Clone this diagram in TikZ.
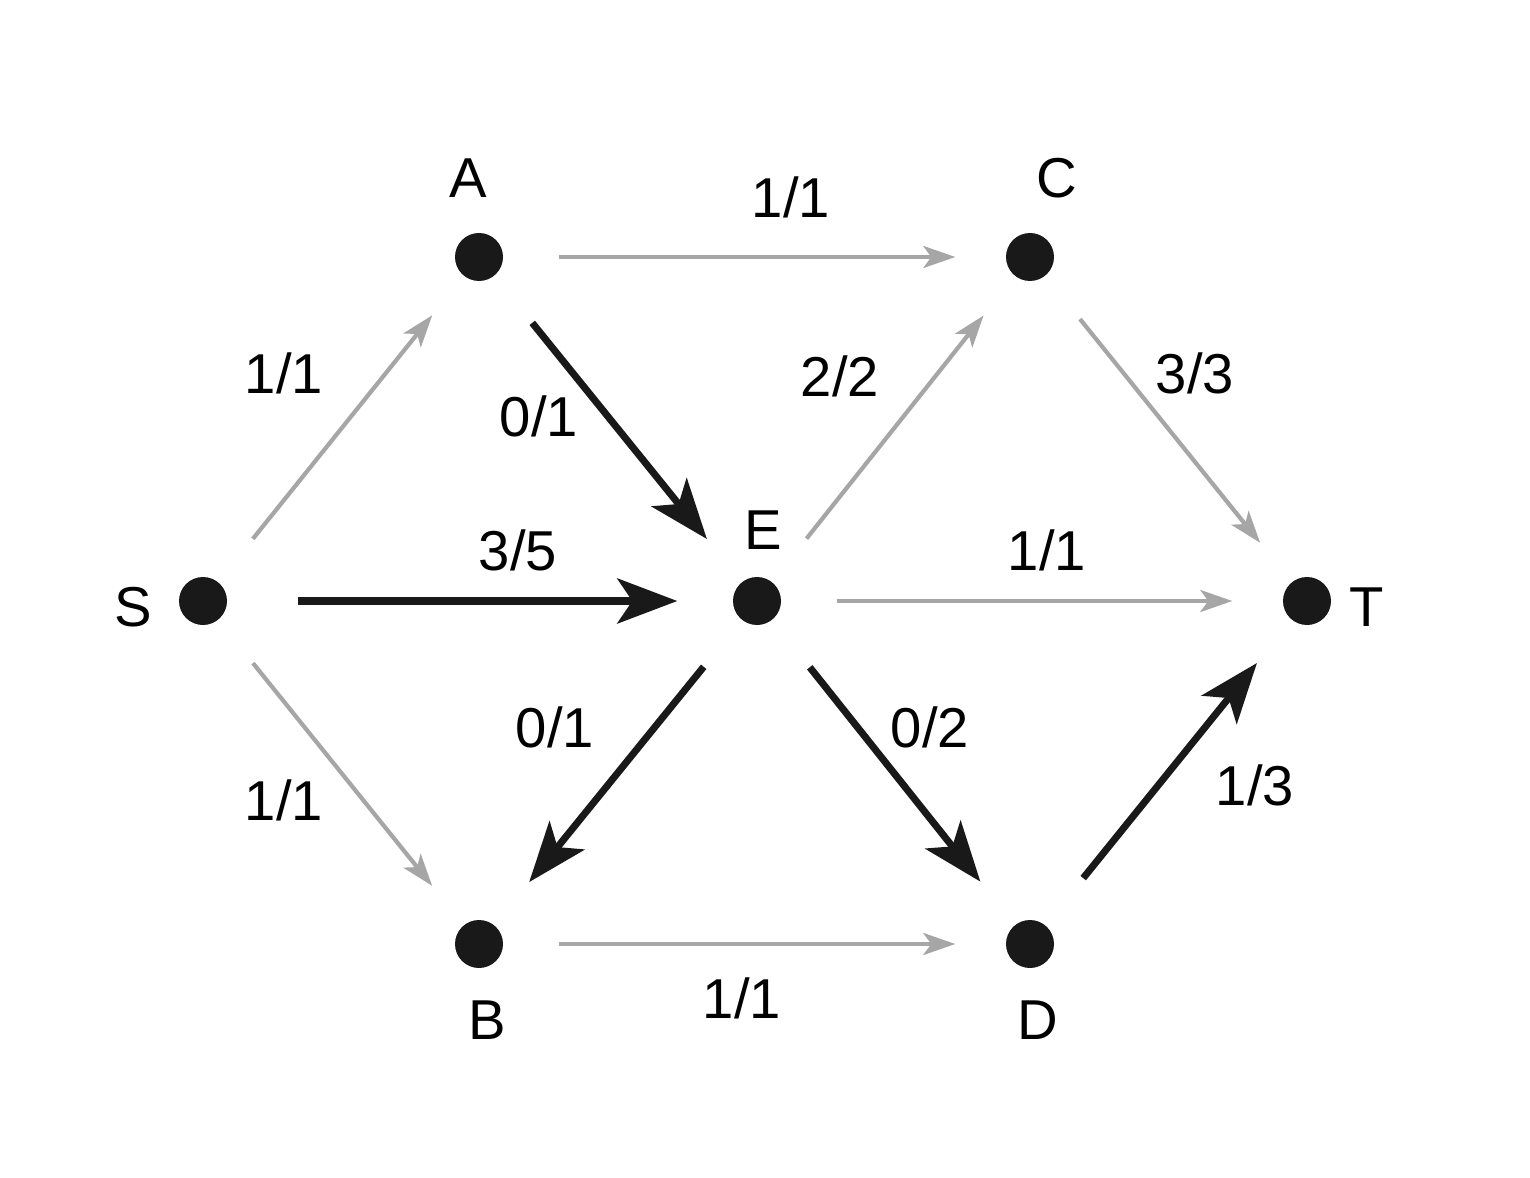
\documentclass[tikz,border=0pt]{standalone}
\usepackage{fontspec}
\setmainfont{Liberation Sans}
\usepackage{xcolor}
\usetikzlibrary{arrows.meta}
\begin{document}
\begin{tikzpicture}

\tikzset{
    dot/.style = {
    circle, fill=black!90, inner sep=0pt,
    minimum size=0.48cm
    }
}

\tikzstyle{txt}=[font=\fontsize{16}{19}\selectfont, inner sep=0pt]
\tikzstyle{flow}=[draw=black!35, line width=1.2pt, shorten <=0.55cm, shorten >=0.5cm, -{Stealth[length=0.32cm, width=0.22cm, inset=0.08cm]}]
\tikzstyle{free}=[draw=black!90, line width=2pt, shorten <=0.6cm, shorten >=0.55cm, -{Stealth[length=0.6cm, width=0.45cm, inset=0.15cm]}]

\useasboundingbox (0,0) rectangle (15.3,11.77);

\node (S) [dot] at (2.03,5.76) {};
\node (A) [dot] at (4.79,9.20) {};
\node (C) [dot] at (10.30,9.20) {};
\node (E) [dot] at (7.57,5.76) {};
\node (T) [dot] at (13.07,5.76) {};
\node (B) [dot] at (4.79,2.33) {};
\node (D) [dot] at (10.30,2.33) {};

\node (lS) [txt] at (1.33,5.70) {S};
\node (lA) [txt] at (4.68,9.99) {A};
\node (lC) [txt] at (10.57,9.99) {C};
\node (lE) [txt] at (7.63,6.47) {E};
\node (lT) [txt] at (13.67,5.70) {T};
\node (lB) [txt] at (4.87,1.57) {B};
\node (lD) [txt] at (10.38,1.57) {D};

% saturated edges
\draw[flow] (S) -- (A);
\draw[flow] (A) -- (C);
\draw[flow] (S) -- (B);
\draw[flow] (B) -- (D);
\draw[flow] (E) -- (C);
\draw[flow] (C) -- (T);
\draw[flow] (E) -- (T);

% residual edges
\draw[free] (A) -- (E);
\draw[free, shorten <=0.7cm] (S) -- (E);
\draw[free] (E) -- (B);
\draw[free] (E) -- (D);
\draw[free] (D) -- (T);

\node (fSA) [txt] at (2.84,8.04) {1/1};
\node (fAC) [txt] at (7.91,9.80) {1/1};
\node (fAE) [txt] at (5.39,7.61) {0/1};
\node (fEC) [txt] at (8.40,8.01) {2/2};
\node (fCT) [txt] at (11.95,8.04) {3/3};
\node (fSE) [txt] at (5.18,6.27) {3/5};
\node (fET) [txt] at (10.47,6.27) {1/1};
\node (fEB) [txt] at (5.55,4.50) {0/1};
\node (fED) [txt] at (9.30,4.50) {0/2};
\node (fSB) [txt] at (2.84,3.77) {1/1};
\node (fBD) [txt] at (7.42,1.79) {1/1};
\node (fDT) [txt] at (12.55,3.92) {1/3};

\end{tikzpicture}
\end{document}
